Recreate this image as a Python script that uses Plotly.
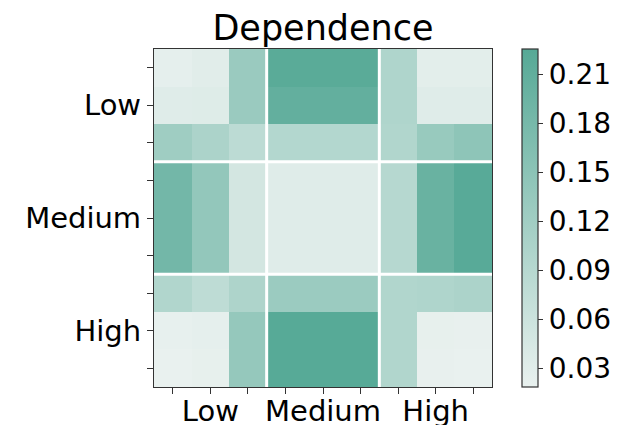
import plotly.graph_objects as go

levels = ["Low", "Medium", "High"]
cell_index = list(range(9))
tick_labels = ["", "Low", "", "", "Medium", "", "", "High", ""]

# 9x9 dependence matrix (rows top to bottom, columns left to right)
row0 = [0.024, 0.030, 0.130, 0.220, 0.220, 0.220, 0.100, 0.027, 0.027]
row1 = [0.032, 0.034, 0.130, 0.207, 0.207, 0.207, 0.100, 0.033, 0.033]
row2 = [0.123, 0.105, 0.082, 0.094, 0.094, 0.094, 0.097, 0.132, 0.146]
row3 = [0.184, 0.140, 0.050, 0.033, 0.033, 0.033, 0.091, 0.199, 0.222]
row4 = [0.184, 0.140, 0.050, 0.033, 0.033, 0.033, 0.091, 0.199, 0.222]
row5 = [0.184, 0.140, 0.050, 0.033, 0.033, 0.033, 0.091, 0.199, 0.222]
row6 = [0.097, 0.079, 0.102, 0.128, 0.128, 0.128, 0.097, 0.100, 0.105]
row7 = [0.021, 0.024, 0.137, 0.224, 0.224, 0.224, 0.097, 0.022, 0.020]
row8 = [0.019, 0.022, 0.137, 0.224, 0.224, 0.224, 0.097, 0.020, 0.019]
values = [row0, row1, row2, row3, row4, row5, row6, row7, row8]

cbar_ticks = [0.03, 0.06, 0.09, 0.12, 0.15, 0.18, 0.21]
cbar_text = ["0.03", "0.06", "0.09", "0.12", "0.15", "0.18", "0.21"]
group_bounds = [2.5, 5.5]

FONT = "DejaVu Sans"
W, H = 631, 425
L, R, T, B = 154, 139, 49, 38
pw = W - L - R

fig = go.Figure()
fig.add_trace(go.Heatmap(
    z=values, x=cell_index, y=cell_index,
    zmin=0.0185, zmax=0.2255,
    colorscale=[[0, "#e9f1ef"], [1, "#56a996"]],
    colorbar=dict(
        x=(522 - L) / pw, xanchor="left", xref="paper", xpad=0, ypad=0,
        y=0.5, yanchor="middle", len=1, lenmode="fraction",
        thickness=16, outlinewidth=1.2, outlinecolor="#333333",
        tickvals=cbar_ticks, ticktext=cbar_text,
        ticks="outside", ticklen=5, tickcolor="#333333",
        tickfont=dict(family=FONT, size=28, color="black"),
    ),
    hoverongaps=False,
))

for b in group_bounds:
    fig.add_shape(type="line", x0=b, x1=b, y0=-0.5, y1=8.5,
                  xref="x", yref="y", line=dict(color="white", width=3))
    fig.add_shape(type="line", x0=-0.5, x1=8.5, y0=b, y1=b,
                  xref="x", yref="y", line=dict(color="white", width=3))

axis_common = dict(
    tickvals=cell_index, ticktext=tick_labels,
    ticks="outside", ticklen=6, tickcolor="#333333", tickwidth=1,
    showline=True, mirror=True, linecolor="#333333", linewidth=1.2,
    showgrid=False, zeroline=False, automargin=False,
    tickfont=dict(family=FONT, size=29, color="black"),
    range=[-0.5, 8.5],
)
fig.update_xaxes(**axis_common)
fig.update_xaxes(ticklabelstandoff=-8)
fig.update_yaxes(**axis_common)
fig.update_yaxes(range=[8.5, -0.5])

fig.update_layout(
    width=W, height=H,
    margin=dict(l=L, r=R, t=T, b=B, autoexpand=False),
    paper_bgcolor="white", plot_bgcolor="white",
    title=dict(text="Dependence", x=(L + pw / 2) / W, xanchor="center",
               y=1 - 28 / H, yanchor="middle",
               font=dict(family=FONT, size=35, color="black")),
    font=dict(family=FONT),
)

fig.write_html("out.html", config={"displayModeBar": False},
               post_script="document.body.style.margin='0px';document.body.style.overflow='hidden';")
